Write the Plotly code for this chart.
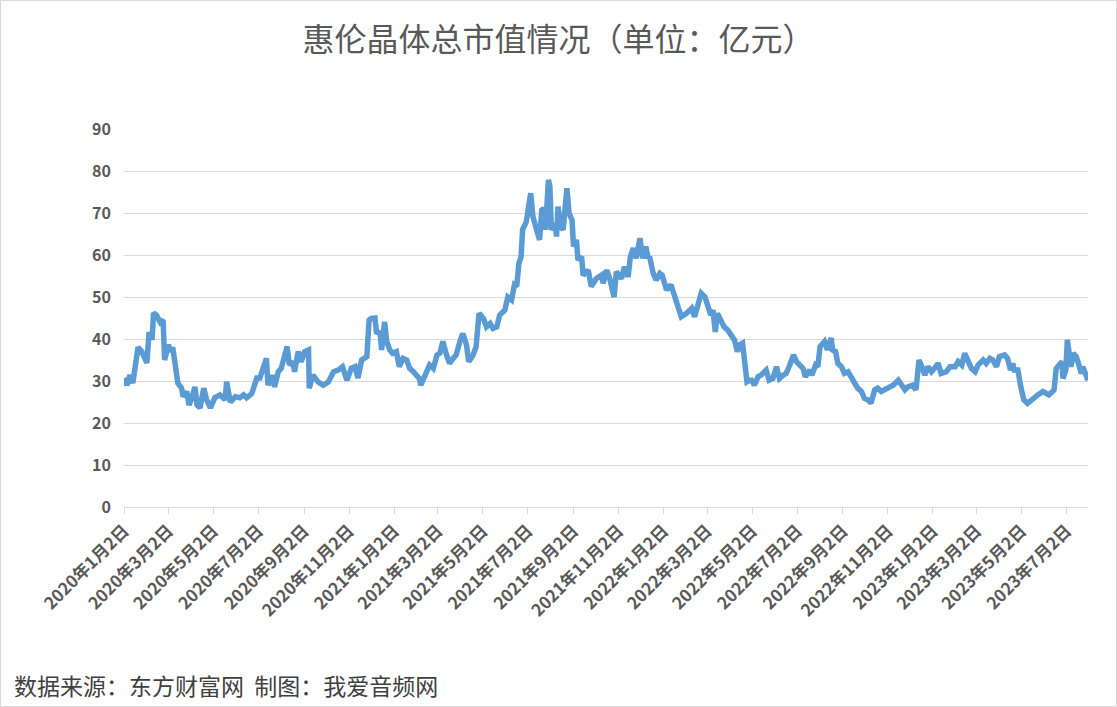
import plotly.graph_objects as go

title_text = "惠伦晶体总市值情况（单位：亿元）"
source_text = "数据来源：东方财富网  制图：我爱音频网"

dates = [
    "2020-01-02","2020-01-06","2020-01-10","2020-01-14","2020-01-21","2020-01-26","2020-02-02","2020-02-05",
    "2020-02-09","2020-02-11","2020-02-15","2020-02-20","2020-02-24","2020-02-26","2020-03-02","2020-03-06",
    "2020-03-08","2020-03-15","2020-03-20","2020-03-22","2020-03-27","2020-03-30","2020-04-03","2020-04-07",
    "2020-04-10","2020-04-14","2020-04-19","2020-04-23","2020-04-28","2020-05-04","2020-05-11","2020-05-18",
    "2020-05-20","2020-05-25","2020-06-01","2020-06-07","2020-06-12","2020-06-16","2020-06-23","2020-06-30",
    "2020-07-04","2020-07-09","2020-07-13","2020-07-15","2020-07-20","2020-07-24","2020-07-29","2020-08-02",
    "2020-08-07","2020-08-10","2020-08-13","2020-08-18","2020-08-20","2020-08-25","2020-08-29","2020-09-03",
    "2020-09-08","2020-09-09","2020-09-14","2020-09-21","2020-09-28","2020-10-05","2020-10-12","2020-10-18",
    "2020-10-24","2020-10-30","2020-11-05","2020-11-10","2020-11-14","2020-11-19","2020-11-26","2020-11-29",
    "2020-12-02","2020-12-07","2020-12-09","2020-12-14","2020-12-16","2020-12-20","2020-12-23","2020-12-27",
    "2020-12-31","2021-01-05","2021-01-09","2021-01-14","2021-01-19","2021-01-23","2021-01-28","2021-02-01",
    "2021-02-05","2021-02-07","2021-02-15","2021-02-19","2021-02-24","2021-03-01","2021-03-05","2021-03-09",
    "2021-03-14","2021-03-18","2021-03-23","2021-03-27","2021-04-01","2021-04-05","2021-04-10","2021-04-13",
    "2021-04-19","2021-04-23","2021-04-27","2021-05-03","2021-05-07","2021-05-12","2021-05-16","2021-05-21",
    "2021-05-25","2021-06-01","2021-06-03","2021-06-05","2021-06-10","2021-06-14","2021-06-17","2021-06-20",
    "2021-06-23","2021-06-25","2021-06-30","2021-07-02","2021-07-06","2021-07-09","2021-07-14","2021-07-18",
    "2021-07-21","2021-07-24","2021-07-26","2021-07-30","2021-08-01","2021-08-03","2021-08-08","2021-08-10",
    "2021-08-12","2021-08-16","2021-08-19","2021-08-24","2021-08-27","2021-08-31","2021-09-02","2021-09-06",
    "2021-09-08","2021-09-13","2021-09-15","2021-09-22","2021-09-26","2021-10-03","2021-10-10","2021-10-12",
    "2021-10-17","2021-10-21","2021-10-27","2021-10-30","2021-11-06","2021-11-10","2021-11-15","2021-11-18",
    "2021-11-22","2021-11-26","2021-12-01","2021-12-05","2021-12-09","2021-12-12","2021-12-14","2021-12-19",
    "2021-12-23","2021-12-28","2021-12-31","2022-01-06","2022-01-12","2022-01-15","2022-01-19","2022-01-26",
    "2022-02-02","2022-02-09","2022-02-13","2022-02-18","2022-02-22","2022-02-27","2022-03-03","2022-03-07",
    "2022-03-10","2022-03-13","2022-03-16","2022-03-21","2022-03-25","2022-03-30","2022-04-04","2022-04-08",
    "2022-04-12","2022-04-15","2022-04-19","2022-04-22","2022-04-25","2022-04-29","2022-05-01","2022-05-05",
    "2022-05-10","2022-05-14","2022-05-21","2022-05-25","2022-05-30","2022-06-04","2022-06-08","2022-06-13",
    "2022-06-17","2022-06-22","2022-06-27","2022-07-01","2022-07-05","2022-07-10","2022-07-13","2022-07-19",
    "2022-07-22","2022-07-27","2022-07-30","2022-08-02","2022-08-08","2022-08-12","2022-08-17","2022-08-19",
    "2022-08-23","2022-08-26","2022-08-31","2022-09-04","2022-09-09","2022-09-13","2022-09-18","2022-09-22",
    "2022-09-27","2022-10-01","2022-10-06","2022-10-10","2022-10-15","2022-10-19","2022-10-24","2022-10-28",
    "2022-11-02","2022-11-09","2022-11-16","2022-11-20","2022-11-25","2022-11-29","2022-12-05","2022-12-10",
    "2022-12-14","2022-12-17","2022-12-22","2022-12-26","2022-12-31","2023-01-04","2023-01-09","2023-01-13",
    "2023-01-20","2023-01-25","2023-02-01","2023-02-05","2023-02-10","2023-02-14","2023-02-19","2023-02-23",
    "2023-02-28","2023-03-04","2023-03-11","2023-03-15","2023-03-20","2023-03-24","2023-03-29","2023-04-02",
    "2023-04-09","2023-04-13","2023-04-17","2023-04-20","2023-04-22","2023-04-27","2023-05-01","2023-05-05",
    "2023-05-10","2023-05-15","2023-05-19","2023-05-24","2023-05-31","2023-06-04","2023-06-08","2023-06-13",
    "2023-06-15","2023-06-18","2023-06-22","2023-06-26","2023-06-27","2023-07-01","2023-07-03","2023-07-06",
    "2023-07-08","2023-07-11","2023-07-15","2023-07-18","2023-07-22","2023-07-24","2023-07-28","2023-07-31",
]

values = [
    30.7, 29.0, 31.4, 29.5, 38.0, 37.0, 34.3, 41.7,
    39.8, 46.2, 45.7, 44.0, 44.5, 35.0, 38.6, 37.0,
    38.0, 29.5, 28.3, 26.3, 27.5, 24.3, 26.0, 28.6,
    24.3, 23.6, 28.3, 25.5, 23.6, 26.0, 26.7, 25.5,
    29.8, 25.0, 26.3, 26.0, 26.7, 26.0, 27.0, 30.7,
    30.7, 33.8, 35.4, 29.0, 31.4, 28.6, 32.2, 33.0,
    37.0, 38.2, 33.8, 34.6, 32.2, 37.0, 34.6, 37.0,
    37.4, 28.3, 31.4, 29.8, 29.0, 29.8, 32.2, 32.6,
    33.4, 30.2, 33.0, 33.4, 30.7, 35.0, 35.8, 44.5,
    44.9, 45.0, 41.7, 41.4, 37.4, 44.1, 39.4, 37.4,
    36.6, 37.0, 33.4, 35.4, 35.0, 33.0, 32.2, 31.4,
    30.6, 29.0, 32.2, 33.8, 33.0, 36.2, 36.6, 39.4,
    36.2, 34.2, 35.4, 36.2, 39.4, 41.3, 38.6, 34.6,
    36.2, 38.2, 46.1, 44.9, 42.9, 43.7, 42.5, 42.9,
    45.7, 46.9, 48.5, 50.0, 49.3, 52.9, 52.5, 58.0,
    59.6, 66.0, 67.9, 70.7, 74.7, 69.1, 65.5, 63.6,
    70.7, 71.1, 66.0, 77.9, 76.3, 66.0, 67.5, 64.4,
    71.5, 66.7, 66.0, 75.9, 69.9, 68.3, 62.0, 63.6,
    58.8, 59.6, 55.2, 56.4, 52.5, 54.4, 55.2, 53.3,
    56.4, 54.4, 50.0, 56.0, 54.4, 57.2, 54.8, 59.6,
    61.6, 59.2, 64.0, 59.2, 62.0, 59.2, 59.6, 55.6,
    54.0, 55.6, 55.2, 51.7, 52.9, 51.3, 48.5, 45.3,
    46.1, 47.3, 45.3, 48.9, 50.9, 50.0, 48.1, 45.7,
    46.9, 41.7, 46.1, 44.5, 42.9, 42.1, 41.0, 39.8,
    37.0, 38.6, 39.0, 35.0, 29.8, 30.2, 30.2, 29.0,
    31.0, 31.4, 32.6, 30.2, 30.6, 33.4, 30.6, 31.4,
    31.8, 33.8, 36.2, 34.6, 33.8, 33.0, 31.0, 32.6,
    31.4, 33.8, 33.4, 38.2, 39.4, 37.4, 40.2, 37.4,
    37.0, 34.2, 33.4, 31.8, 32.2, 31.0, 29.0, 28.3,
    27.5, 25.9, 25.5, 24.7, 27.9, 28.3, 27.5, 27.9,
    28.6, 29.0, 30.2, 29.0, 27.9, 28.6, 29.0, 27.9,
    35.0, 33.8, 31.4, 33.4, 32.2, 33.0, 34.2, 31.8,
    32.2, 33.4, 33.4, 34.6, 33.8, 36.6, 34.2, 33.0,
    32.2, 33.8, 35.0, 34.2, 35.4, 35.0, 33.4, 35.8,
    36.2, 35.4, 32.6, 34.2, 32.6, 32.6, 28.6, 25.5,
    24.7, 25.5, 25.9, 26.7, 27.5, 27.1, 26.7, 27.5,
    27.9, 33.0, 33.8, 34.6, 30.6, 32.6, 39.8, 36.6,
    33.4, 36.6, 35.8, 34.2, 31.8, 33.4, 31.8, 30.2,
]

tick_dates = [
    "2020-01-02","2020-03-02","2020-05-02","2020-07-02","2020-09-02","2020-11-02",
    "2021-01-02","2021-03-02","2021-05-02","2021-07-02","2021-09-02","2021-11-02",
    "2022-01-02","2022-03-02","2022-05-02","2022-07-02","2022-09-02","2022-11-02",
    "2023-01-02","2023-03-02","2023-05-02","2023-07-02",
]
tick_labels = [
    "2020年1月2日","2020年3月2日","2020年5月2日","2020年7月2日","2020年9月2日","2020年11月2日",
    "2021年1月2日","2021年3月2日","2021年5月2日","2021年7月2日","2021年9月2日","2021年11月2日",
    "2022年1月2日","2022年3月2日","2022年5月2日","2022年7月2日","2022年9月2日","2022年11月2日",
    "2023年1月2日","2023年3月2日","2023年5月2日","2023年7月2日",
]
y_ticks = [0, 10, 20, 30, 40, 50, 60, 70, 80, 90]

W, H = 1117, 707
ML, MR, MT, MB = 124, 29, 129, 200
pw, ph = W - ML - MR, H - MT - MB

fig = go.Figure()
fig.add_trace(go.Scatter(
    x=dates, y=values, mode="lines",
    line=dict(color="#5B9BD5", width=5.5, shape="linear"),
    hoverinfo="x+y", showlegend=False,
))

fig.update_layout(
    width=W, height=H,
    margin=dict(l=ML, r=MR, t=MT, b=MB, pad=0),
    paper_bgcolor="white", plot_bgcolor="white",
    font=dict(family="Noto Sans CJK SC", color="#595959"),
    title=dict(text=title_text, x=0.5, xanchor="center", xref="container",
               y=1 - 40 / H, yanchor="middle", yref="container",
               font=dict(size=32, color="#595959", family="Noto Sans CJK SC")),
    xaxis=dict(
        type="date", range=["2020-01-02", "2023-07-31"],
        tickmode="array", tickvals=tick_dates, ticktext=tick_labels,
        tickangle=-45, showgrid=False, showline=True, linecolor="#D9D9D9", linewidth=1,
        ticks="outside", ticklen=6, tickcolor="#D9D9D9",
        tickfont=dict(size=17, color="#595959", family="Noto Sans CJK SC", weight="bold"),
        zeroline=False, fixedrange=True,
    ),
    yaxis=dict(
        range=[0, 90], tickmode="array", tickvals=y_ticks,
        showgrid=True, gridcolor="#D9D9D9", gridwidth=1.3,
        showline=False, zeroline=False, ticks="", ticklabelstandoff=12,
        tickfont=dict(size=16, color="#595959", family="Noto Sans CJK SC", weight="bold"),
        fixedrange=True,
    ),
)

fig.add_annotation(
    text=source_text, xref="paper", yref="paper",
    x=-(ML - 12) / pw, y=-(685 - (H - MB)) / ph, xanchor="left", yanchor="middle",
    showarrow=False, font=dict(size=23, color="#404040", family="Noto Sans CJK SC"),
)

fig.add_shape(
    type="rect", xref="paper", yref="paper",
    x0=-(ML - 0.5) / pw, x1=1 + (MR - 0.5) / pw,
    y0=-(MB - 0.5) / ph, y1=1 + (MT - 0.5) / ph,
    line=dict(color="#D9D9D9", width=1), fillcolor="rgba(0,0,0,0)", layer="below",
)

fig.write_html("out.html")
